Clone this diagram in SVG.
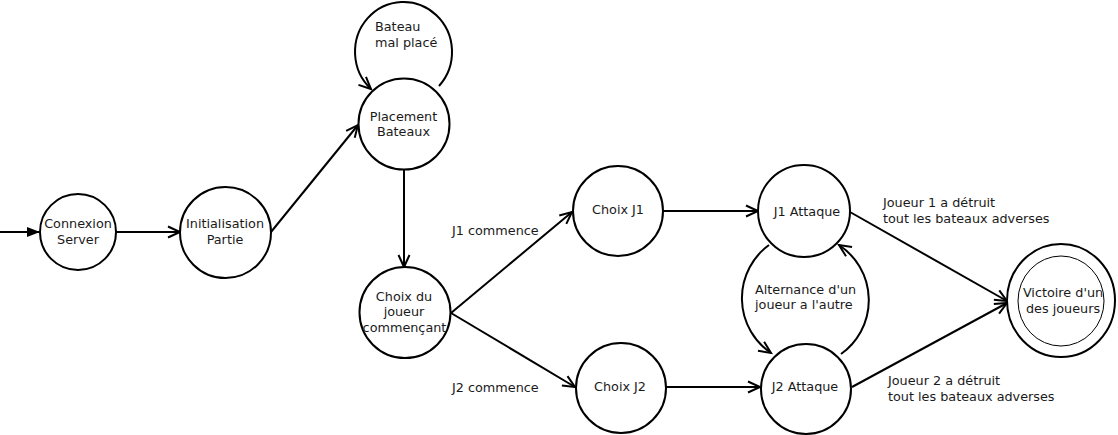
<svg xmlns="http://www.w3.org/2000/svg" width="1118" height="435" viewBox="0 0 1118 435">
<style>
  .st { fill: none; stroke: #000; stroke-width: 2; }
  .bg { fill: #fff; stroke: #000; stroke-width: 2; }
  .thin { fill: none; stroke: #000; stroke-width: 1; }
  .e { fill: none; stroke: #000; stroke-width: 2; }
  text { font-family: "DejaVu Sans", "Liberation Sans", sans-serif; font-size: 12.8px; fill: #1a1a1a; }
  .c { text-anchor: middle; }
</style>
<defs>
  <marker id="open" markerUnits="userSpaceOnUse" markerWidth="16" markerHeight="14" refX="13" refY="6" orient="auto" overflow="visible">
    <path d="M1,0.5 L13,6 L1,11.5" fill="none" stroke="#000" stroke-width="2"/>
  </marker>
  <marker id="filled" markerUnits="userSpaceOnUse" markerWidth="16" markerHeight="14" refX="13" refY="5" orient="auto" overflow="visible">
    <path d="M0,0 L13,5 L0,10 Z" fill="#000" stroke="none"/>
  </marker>
</defs>
<rect width="1118" height="435" fill="#fff"/>

<g id="connectors">
  <line class="e" x1="0" y1="232" x2="40" y2="232" marker-end="url(#filled)"/>
  <line class="e" x1="116" y1="232" x2="180" y2="232" marker-end="url(#open)"/>
  <line class="e" x1="271" y1="232" x2="358" y2="125" marker-end="url(#open)"/>
  <line class="e" x1="404" y1="170" x2="404" y2="267" marker-end="url(#open)"/>
  <line class="e" x1="451" y1="313" x2="572" y2="212" marker-end="url(#open)"/>
  <line class="e" x1="451" y1="313" x2="575" y2="387" marker-end="url(#open)"/>
  <line class="e" x1="663" y1="211" x2="758" y2="211" marker-end="url(#open)"/>
  <line class="e" x1="666" y1="387" x2="760" y2="387" marker-end="url(#open)"/>
  <line class="e" x1="850" y1="212" x2="1007" y2="301" marker-end="url(#open)"/>
  <line class="e" x1="852" y1="387" x2="1007" y2="303" marker-end="url(#open)"/>
  <path class="e" d="M439,86 A48.5,50 0 1,0 371,89" marker-end="url(#open)"/>
  <path class="e" d="M769,245 A66,66 0 0,0 771,353" marker-end="url(#open)"/>
  <path class="e" d="M841,354 A66,66 0 0,0 839,245" marker-end="url(#open)"/>
  <text x="375" y="31">Bateau</text>
  <text x="375" y="46.5">mal placé</text>
  <text x="452" y="235">J1 commence</text>
  <text x="452" y="392">J2 commence</text>
  <text x="755" y="294">Alternance d'un</text>
  <text x="755" y="309">joueur a l'autre</text>
  <text x="883" y="207">Joueur 1 a détruit</text>
  <text x="883" y="222.5">tout les bateaux adverses</text>
  <text x="888" y="385">Joueur 2 a détruit</text>
  <text x="888" y="401">tout les bateaux adverses</text>
</g>

<g id="connexion">
  <circle class="bg" cx="78" cy="232" r="38"/>
  <text class="c" x="78" y="228">Connexion</text>
  <text class="c" x="78" y="244">Server</text>
</g>
<g id="initialisation">
  <circle class="bg" cx="225.5" cy="232.5" r="45.5"/>
  <text class="c" x="225" y="228">Initialisation</text>
  <text class="c" x="225" y="244">Partie</text>
</g>
<g id="placement">
  <circle class="bg" cx="404" cy="124" r="45.5"/>
  <text class="c" x="403.5" y="120.5">Placement</text>
  <text class="c" x="403.5" y="136">Bateaux</text>
</g>
<g id="choix-joueur">
  <circle class="bg" cx="405" cy="312.5" r="45.5"/>
  <text class="c" x="404" y="300.5">Choix du</text>
  <text class="c" x="404" y="316">joueur</text>
  <text class="c" x="404.5" y="331.7">commençant</text>
</g>
<g id="choix-j1">
  <circle class="bg" cx="618" cy="211" r="45"/>
  <text class="c" x="618" y="214.3">Choix J1</text>
</g>
<g id="choix-j2">
  <circle class="bg" cx="621" cy="388" r="45"/>
  <text class="c" x="620" y="391">Choix J2</text>
</g>
<g id="j1-attaque">
  <circle class="bg" cx="804" cy="211" r="46"/>
  <text class="c" x="807" y="215.5">J1 Attaque</text>
</g>
<g id="j2-attaque">
  <circle class="bg" cx="806" cy="389" r="45"/>
  <text class="c" x="805" y="391">J2 Attaque</text>
</g>
<g id="victoire">
  <ellipse class="bg" cx="1061" cy="300.5" rx="54" ry="56.5"/>
  <ellipse class="thin" cx="1061" cy="301" rx="43" ry="45"/>
  <text class="c" x="1063" y="296.5">Victoire d'un</text>
  <text class="c" x="1063" y="312.5">des joueurs</text>
</g>
</svg>
